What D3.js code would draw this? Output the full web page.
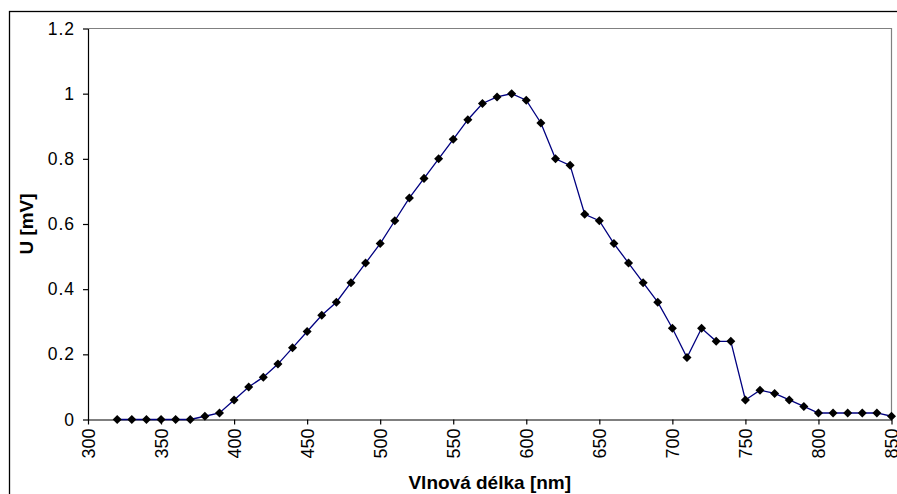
<!DOCTYPE html>
<html>
<head>
<meta charset="utf-8">
<script src="https://cdn.jsdelivr.net/npm/d3@7"></script>
<style>
  body { margin: 0; background: #fff; }
  svg { display: block; font-family: "Liberation Sans", Arial, sans-serif; }
</style>
</head>
<body>
<div class="paint"></div>
<script>
// vlnove delky a napeti
var wavelengths = [320, 330, 340, 350, 360, 370, 380, 390, 400, 410, 420, 430, 440, 450, 460, 470, 480, 490,
    500, 510, 520, 530, 540, 550, 560, 570, 580, 590, 600, 610, 620, 630, 640, 650, 660, 670, 680, 690,
    700, 710, 720, 730, 740, 750, 760, 770, 780, 790, 800, 810, 820, 830, 840, 850];
var voltages = [0, 0, 0, 0, 0, 0, 0.01, 0.02, 0.06, 0.1, 0.13, 0.17, 0.22, 0.27, 0.32, 0.36, 0.42, 0.48,
    0.54, 0.61, 0.68, 0.74, 0.8, 0.86, 0.92, 0.97, 0.99, 1.0, 0.98, 0.91, 0.8, 0.78, 0.63, 0.61, 0.54, 0.48, 0.42, 0.36,
    0.28, 0.19, 0.28, 0.24, 0.24, 0.06, 0.09, 0.08, 0.06, 0.04, 0.02, 0.02, 0.02, 0.02, 0.02, 0.01];
var xTicks = [300, 350, 400, 450, 500, 550, 600, 650, 700, 750, 800, 850];
var yTicks = [0, 0.2, 0.4, 0.6, 0.8, 1, 1.2];
var xTitle = "Vlnová délka [nm]";
var yTitle = "U [mV]";

var main;
(function (main) {
    function ini() {
        let width = 897, height = 494;
        let left = 88, top = 28.5, right = 891.5, bottom = 419.5;
        let svg = d3.select(".paint").append("svg")
            .attr("width", width).attr("height", height);

        // outer frame
        svg.append("rect")
            .attr("x", 9.5).attr("y", 11.5)
            .attr("width", width + 10).attr("height", height + 10)
            .attr("fill", "none").attr("stroke", "#000").attr("stroke-width", 1.3);

        let x = d3.scaleLinear().domain([300, 850]).range([left, right]);
        let y = d3.scaleLinear().domain([0, 1.2]).range([bottom, top]);

        // plot area border (gray top and right)
        svg.append("path")
            .attr("d", "M" + left + "," + top + "H" + right + "V" + bottom)
            .attr("fill", "none").attr("stroke", "#808080").attr("stroke-width", 1.2);

        let gx = svg.append("g").attr("transform", "translate(0," + bottom + ")")
            .call(d3.axisBottom(x).tickValues(xTicks).tickSize(5).tickSizeOuter(0).tickFormat(d3.format("d")));
        gx.selectAll("text")
            .attr("transform", "rotate(-90)")
            .attr("x", -9).attr("y", 0).attr("dy", "0.36em")
            .style("text-anchor", "end");

        let gy = svg.append("g").attr("transform", "translate(" + left + ",0)")
            .call(d3.axisLeft(y).tickValues(yTicks).tickSize(5).tickSizeOuter(0).tickFormat(d => String(d)));
        gy.selectAll("text").attr("x", -13).attr("letter-spacing", 1);

        svg.selectAll(".tick text").attr("font-family", "Liberation Sans, Arial, sans-serif").attr("fill", "#000");
        gx.selectAll(".tick text").attr("font-size", 18);
        gy.selectAll(".tick text").attr("font-size", 17.5);
        svg.selectAll(".domain, .tick line").attr("stroke", "#000").attr("stroke-width", 1.2);

        let pts = wavelengths.map((w, i) => ({ w: w, u: voltages[i] }));
        let line = d3.line().x(d => x(d.w)).y(d => y(d.u));
        svg.append("path").datum(pts)
            .attr("d", line)
            .attr("fill", "none").attr("stroke", "#000080").attr("stroke-width", 1.3);

        let diamond = d3.symbol().type(d3.symbolDiamond2).size(52);
        svg.selectAll(".marker").data(pts).enter().append("path")
            .classed("marker", true)
            .attr("d", diamond)
            .attr("transform", d => "translate(" + x(d.w) + "," + y(d.u) + ")")
            .attr("fill", "#000");

        svg.append("text")
            .attr("x", (left + right) / 2).attr("y", 489)
            .attr("text-anchor", "middle")
            .attr("font-size", 19).attr("font-weight", "bold")
            .text(xTitle);
        svg.append("text")
            .attr("transform", "translate(33," + ((top + bottom) / 2) + ") rotate(-90)")
            .attr("text-anchor", "middle")
            .attr("font-size", 19).attr("font-weight", "bold")
            .text(yTitle);
    }
    main.ini = ini;
})(main || (main = {}));
main.ini();
</script>
</body>
</html>
